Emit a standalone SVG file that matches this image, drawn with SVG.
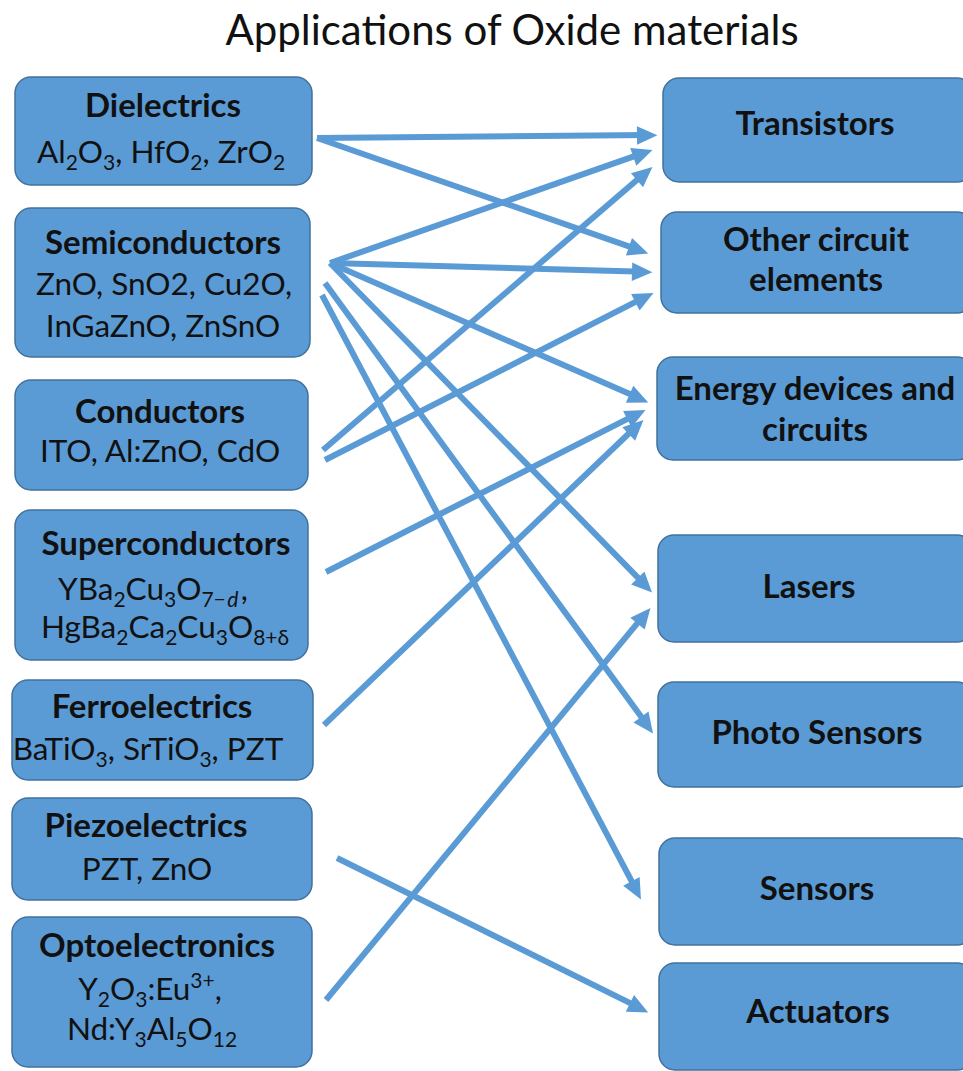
<svg xmlns="http://www.w3.org/2000/svg" width="963" height="1071" viewBox="0 0 963 1071">
  <style>
    .box { fill: #5B9BD5; stroke: #41719C; stroke-width: 1.5; }
    .t { font-family: Lato, "Open Sans", "Liberation Sans", sans-serif; fill: #111; text-anchor: middle; }
    .h { font-weight: bold; font-size: 33px; }
    .r { font-size: 31.5px; }
    .title { font-family: Lato, "Open Sans", "Liberation Sans", sans-serif; font-size: 42px; fill: #111; text-anchor: middle; }
    .sub { font-size: 21px; }
    .link { stroke: #5B9BD5; stroke-width: 6; fill: none; marker-end: url(#head); }
  </style>
  <defs>
    <marker id="head" markerUnits="strokeWidth" markerWidth="3.4" markerHeight="3" refX="2" refY="1.5" orient="auto" overflow="visible">
      <path d="M0,0 L3.4,1.55 L0,3.1 z" fill="#5B9BD5"/>
    </marker>
  </defs>

  <rect width="963" height="1071" fill="#fff"/>

  <text class="title" x="512" y="45">Applications of Oxide materials</text>

  <!-- material classes -->
  <g id="dielectrics">
    <rect class="box" x="15" y="77" width="297" height="108" rx="16"/>
    <text class="t h" x="163" y="117">Dielectrics</text>
    <text class="t r" x="161" y="163">Al<tspan class="sub" dy="7">2</tspan><tspan dy="-7">O</tspan><tspan class="sub" dy="7">3</tspan><tspan dy="-7">, HfO</tspan><tspan class="sub" dy="7">2</tspan><tspan dy="-7">, ZrO</tspan><tspan class="sub" dy="7">2</tspan></text>
  </g>

  <g id="semiconductors">
    <rect class="box" x="15" y="208" width="295" height="149" rx="16"/>
    <text class="t h" x="163" y="254">Semiconductors</text>
    <text class="t r" x="164" y="295">ZnO, SnO2, Cu2O,</text>
    <text class="t r" x="163" y="337">InGaZnO, ZnSnO</text>
  </g>

  <g id="conductors">
    <rect class="box" x="15" y="380" width="293" height="110" rx="16"/>
    <text class="t h" x="160" y="423">Conductors</text>
    <text class="t r" x="160" y="462">ITO, Al:ZnO, CdO</text>
  </g>

  <g id="superconductors">
    <rect class="box" x="15" y="510" width="293" height="150" rx="16"/>
    <text class="t h" x="166" y="555">Superconductors</text>
    <text class="t r" x="153" y="600">YBa<tspan class="sub" dy="7">2</tspan><tspan dy="-7">Cu</tspan><tspan class="sub" dy="7">3</tspan><tspan dy="-7">O</tspan><tspan class="sub" dy="7">7−</tspan><tspan class="sub" font-style="italic" dx="1.5">d</tspan><tspan dx="2.5" dy="-7">,</tspan></text>
    <text class="t r" x="165" y="638">HgBa<tspan class="sub" dy="7">2</tspan><tspan dy="-7">Ca</tspan><tspan class="sub" dy="7">2</tspan><tspan dy="-7">Cu</tspan><tspan class="sub" dy="7">3</tspan><tspan dy="-7">O</tspan><tspan class="sub" dy="7">8+δ</tspan></text>
  </g>

  <g id="ferroelectrics">
    <rect class="box" x="12" y="680" width="301" height="100" rx="16"/>
    <text class="t h" x="152" y="718">Ferroelectrics</text>
    <text class="t r" x="148" y="760">BaTiO<tspan class="sub" dy="7">3</tspan><tspan dy="-7">, SrTiO</tspan><tspan class="sub" dy="7">3</tspan><tspan dy="-7">, PZT</tspan></text>
  </g>

  <g id="piezoelectrics">
    <rect class="box" x="12" y="798" width="300" height="102" rx="16"/>
    <text class="t h" x="146" y="837">Piezoelectrics</text>
    <text class="t r" x="147" y="880">PZT, ZnO</text>
  </g>

  <g id="optoelectronics">
    <rect class="box" x="12" y="917" width="300" height="150" rx="16"/>
    <text class="t h" x="157" y="957">Optoelectronics</text>
    <text class="t r" x="150" y="1000">Y<tspan class="sub" dy="7">2</tspan><tspan dy="-7">O</tspan><tspan class="sub" dy="7">3</tspan><tspan dy="-7">:Eu</tspan><tspan class="sub" dy="-12">3+</tspan><tspan dy="12">,</tspan></text>
    <text class="t r" x="152" y="1040">Nd:Y<tspan class="sub" dy="7">3</tspan><tspan dy="-7">Al</tspan><tspan class="sub" dy="7">5</tspan><tspan dy="-7">O</tspan><tspan class="sub" dy="7">12</tspan></text>
  </g>

  <!-- applications -->
  <g id="transistors">
    <rect class="box" x="663" y="78" width="310" height="104" rx="16"/>
    <text class="t h" x="815" y="135">Transistors</text>
  </g>

  <g id="other-circuit-elements">
    <rect class="box" x="661" y="212" width="312" height="101" rx="16"/>
    <text class="t h" x="816" y="251">Other circuit</text>
    <text class="t h" x="816" y="291">elements</text>
  </g>

  <g id="energy-devices">
    <rect class="box" x="657" y="357" width="316" height="103" rx="16"/>
    <text class="t h" x="815" y="400">Energy devices and</text>
    <text class="t h" x="815" y="441">circuits</text>
  </g>

  <g id="lasers">
    <rect class="box" x="658" y="535" width="315" height="107" rx="16"/>
    <text class="t h" x="809" y="598">Lasers</text>
  </g>

  <g id="photo-sensors">
    <rect class="box" x="658" y="682" width="315" height="105" rx="16"/>
    <text class="t h" x="817" y="744">Photo Sensors</text>
  </g>

  <g id="sensors">
    <rect class="box" x="659" y="838" width="314" height="107" rx="16"/>
    <text class="t h" x="817" y="900">Sensors</text>
  </g>

  <g id="actuators">
    <rect class="box" x="659" y="963" width="314" height="107" rx="16"/>
    <text class="t h" x="818" y="1023">Actuators</text>
  </g>

  <!-- connectors: material class to application -->
  <g id="connectors">
    <line class="link" x1="317" y1="138" x2="649" y2="135.1"/>
    <line class="link" x1="317" y1="138" x2="640.4" y2="250.4"/>
    <line class="link" x1="330" y1="263" x2="644.5" y2="152.6"/>
    <line class="link" x1="330" y1="263" x2="644" y2="271.8"/>
    <line class="link" x1="330" y1="263" x2="640.7" y2="398.8"/>
    <line class="link" x1="330" y1="263" x2="646.4" y2="586.3"/>
    <line class="link" x1="325" y1="283" x2="648.3" y2="726.5"/>
    <line class="link" x1="322" y1="295" x2="637.3" y2="891.9"/>
    <line class="link" x1="323" y1="450" x2="645.9" y2="172.2"/>
    <line class="link" x1="325" y1="460" x2="645.9" y2="296.6"/>
    <line class="link" x1="326" y1="572" x2="637.9" y2="413.6"/>
    <line class="link" x1="324" y1="725" x2="637.2" y2="425.5"/>
    <line class="link" x1="337" y1="858" x2="640.8" y2="1008.4"/>
    <line class="link" x1="326" y1="1000" x2="644.9" y2="614.2"/>
  </g>
</svg>
